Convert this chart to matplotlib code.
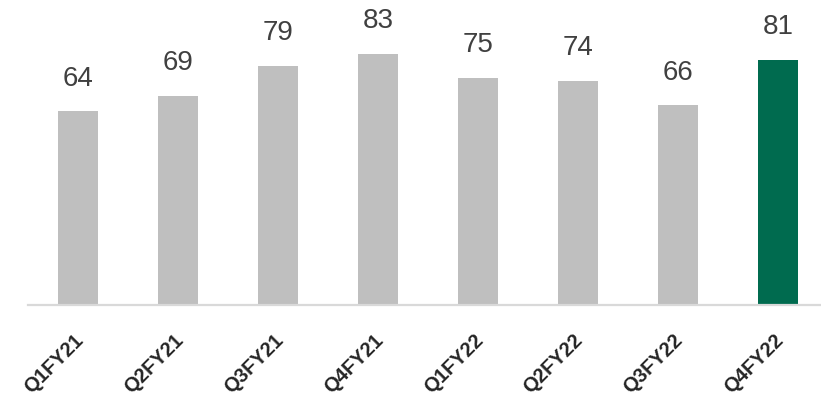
import numpy as np
import matplotlib.pyplot as plt
import matplotlib.transforms as mtransforms

# data
quarters = ['Q1FY21', 'Q2FY21', 'Q3FY21', 'Q4FY21', 'Q1FY22', 'Q2FY22', 'Q3FY22', 'Q4FY22']
values = [64, 69, 79, 83, 75, 74, 66, 81]
colors = ['#BFBFBF'] * 7 + ['#006B4F']

plt.rcParams['font.family'] = ['Liberation Sans', 'DejaVu Sans']

fig = plt.figure(figsize=(8.21, 3.96), dpi=100)
ax = fig.add_axes([28 / 821, 91 / 396, 800 / 821, 272.7 / 396])

x = np.arange(len(quarters))
bars = ax.bar(x, values, width=0.4, color=colors)

for xi, v in zip(x, values):
    ax.annotate(str(v), (xi, v), xytext=(0, 14), textcoords='offset points',
                ha='center', va='bottom', fontsize=20, color='#404040')

ax.set_xlim(-0.5, 7.5)
ax.set_ylim(0, 90)
ax.set_yticks([])
for s in ['top', 'right', 'left']:
    ax.spines[s].set_visible(False)
ax.spines['bottom'].set_color('#D9D9D9')
ax.spines['bottom'].set_linewidth(1.6)

ax.set_xticks(x)
ax.set_xticklabels(quarters, rotation=45, ha='right', va='center',
                   rotation_mode='anchor', fontsize=14.5, fontweight='bold',
                   color='#262626')
ax.tick_params(axis='x', length=0, pad=23)
off = mtransforms.ScaledTranslation(2 / 100, 0, fig.dpi_scale_trans)
for lbl in ax.get_xticklabels():
    lbl.set_transform(lbl.get_transform() + off)

fig.savefig('out.png', dpi=100)
